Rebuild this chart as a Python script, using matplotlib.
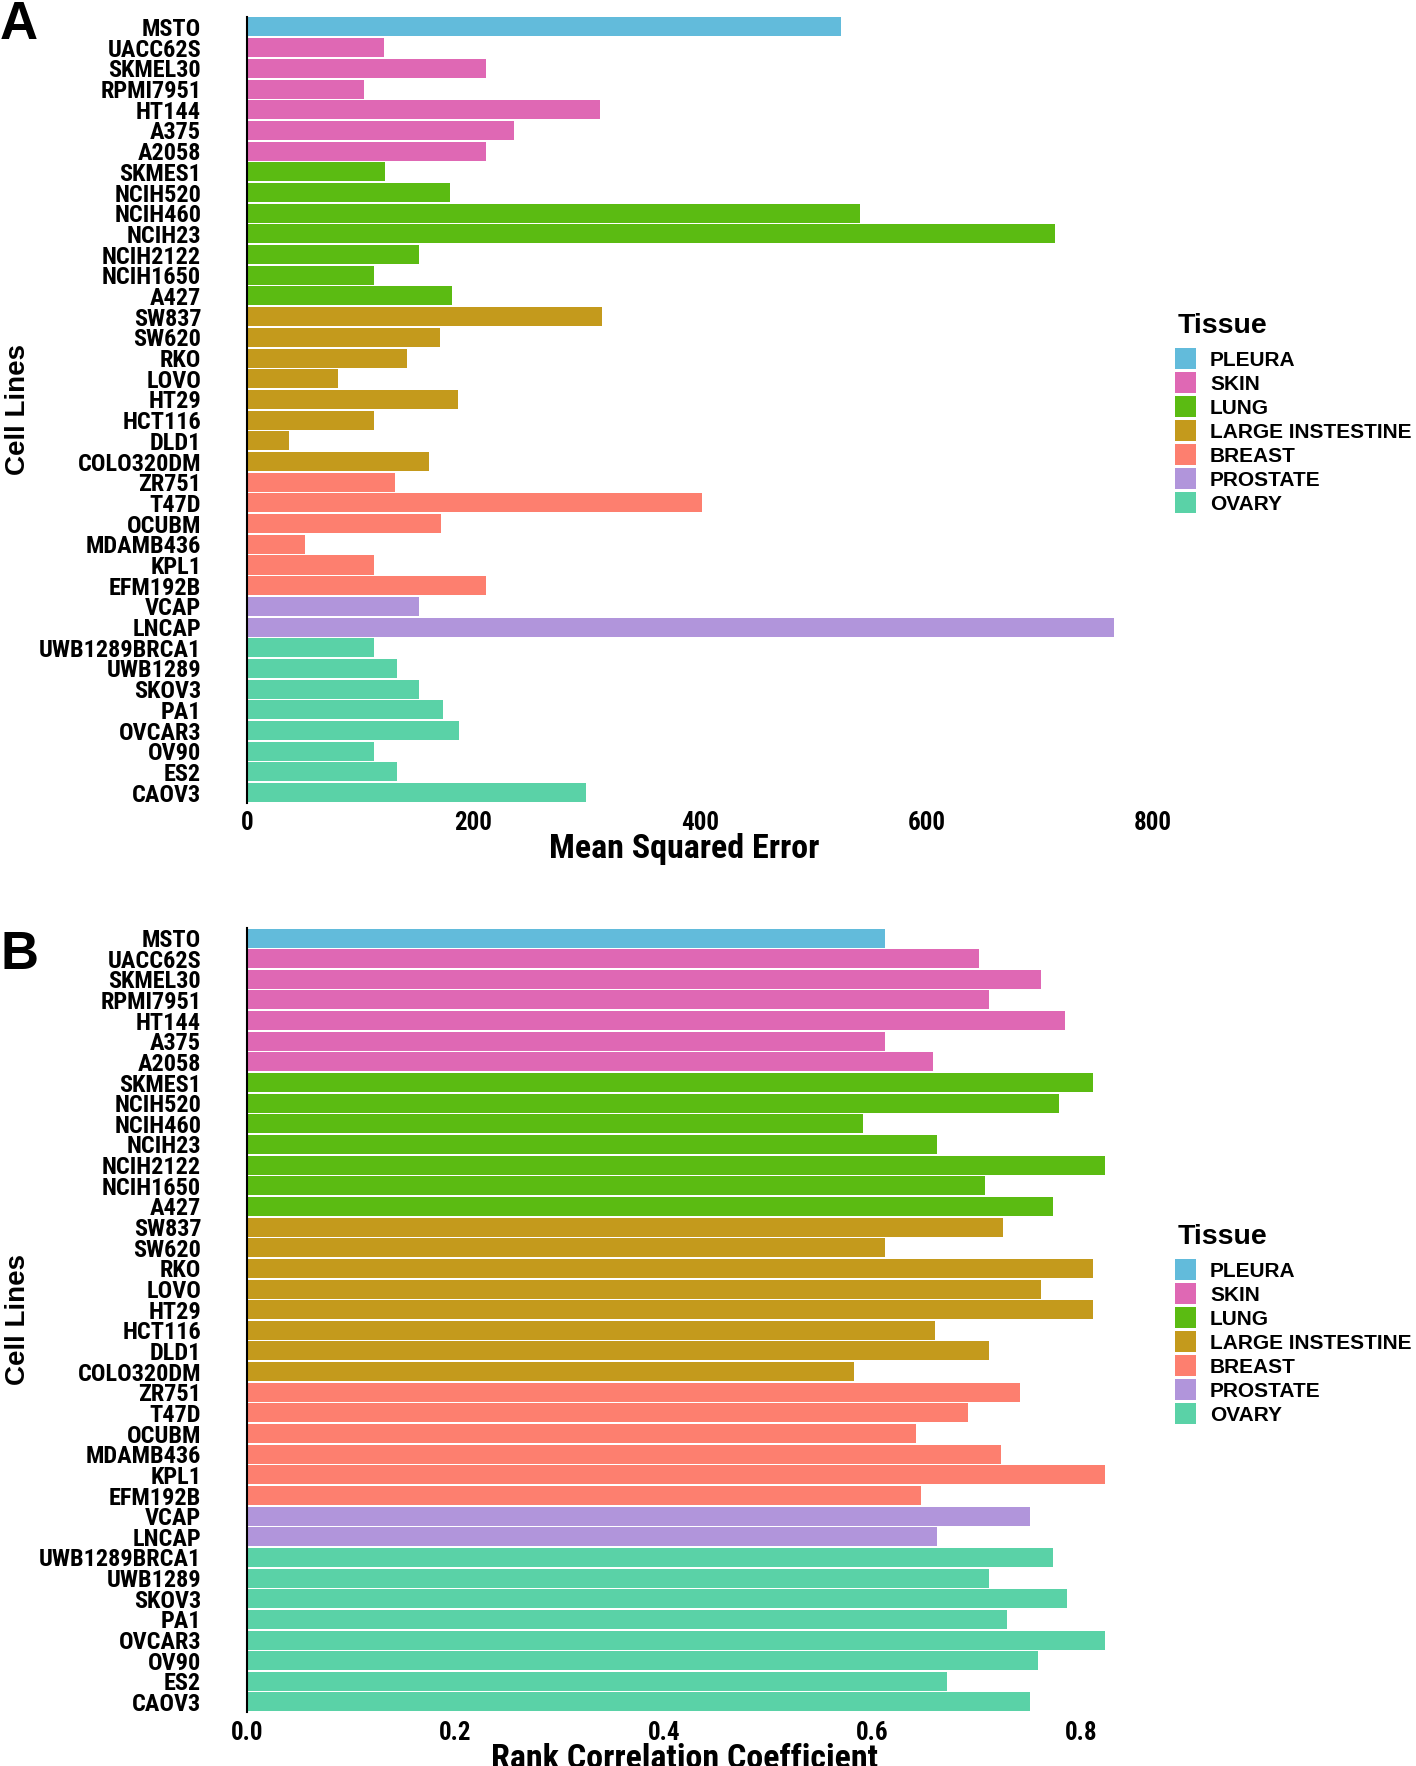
import matplotlib
matplotlib.use("Agg")
import matplotlib.pyplot as plt
from matplotlib.patches import Rectangle
from matplotlib import font_manager
from matplotlib.font_manager import FontProperties

# data
cell_lines = ["MSTO", "UACC62S", "SKMEL30", "RPMI7951", "HT144", "A375", "A2058",
              "SKMES1", "NCIH520", "NCIH460", "NCIH23", "NCIH2122", "NCIH1650", "A427",
              "SW837", "SW620", "RKO", "LOVO", "HT29", "HCT116", "DLD1", "COLO320DM",
              "ZR751", "T47D", "OCUBM", "MDAMB436", "KPL1", "EFM192B",
              "VCAP", "LNCAP",
              "UWB1289BRCA1", "UWB1289", "SKOV3", "PA1", "OVCAR3", "OV90", "ES2", "CAOV3"]
tissue = (["PLEURA"] + ["SKIN"] * 6 + ["LUNG"] * 7 + ["LARGE INSTESTINE"] * 8
          + ["BREAST"] * 6 + ["PROSTATE"] * 2 + ["OVARY"] * 8)
mse = [524, 121, 211, 103, 312, 236, 211,
       122, 179, 541, 713, 152, 112, 181,
       313, 170, 141, 80, 186, 112, 37, 161,
       131, 402, 171, 51, 112, 211,
       152, 765,
       112, 132, 152, 173, 187, 112, 132, 299]
rank_corr = [0.612, 0.702, 0.762, 0.712, 0.785, 0.612, 0.658,
             0.812, 0.779, 0.591, 0.662, 0.823, 0.708, 0.773,
             0.725, 0.612, 0.812, 0.762, 0.812, 0.660, 0.712, 0.582,
             0.742, 0.692, 0.642, 0.723, 0.823, 0.647,
             0.751, 0.662,
             0.773, 0.712, 0.787, 0.729, 0.823, 0.759, 0.672, 0.751]
tissues = ["PLEURA", "SKIN", "LUNG", "LARGE INSTESTINE", "BREAST", "PROSTATE", "OVARY"]
colors = ["#62BBDB", "#DF68B4", "#5BBB12", "#C49A1C", "#FD7F6F", "#B195DB", "#5AD2A7"]
cmap = dict(zip(tissues, colors))


def weight_num(w):
    if isinstance(w, (int, float)):
        return w
    return {"bold": 700, "semibold": 600, "demibold": 600, "heavy": 800,
            "black": 900, "extra bold": 800}.get(str(w).lower(), 400)


# look for a narrow bold font (the original labels are condensed)
narrow_fp = None
scale = 1.0
for key in ["Liberation Sans Narrow", "Roboto Condensed", "Open Sans Condensed",
            "Noto Sans Condensed", "DejaVu Sans Condensed"]:
    for f in font_manager.fontManager.ttflist:
        if (key in f.name or key.replace(" ", "") in f.fname.replace("-", "").replace(" ", "")) \
                and weight_num(f.weight) >= 600 and "Italic" not in f.fname and "Oblique" not in f.fname:
            narrow_fp = f.fname
            break
    if narrow_fp:
        if "DejaVu" in key:
            scale = 0.9
        break

if narrow_fp is None:
    def tick_font(size):
        return FontProperties(family="Liberation Sans", weight="bold", size=size * 0.9)
else:
    def tick_font(size):
        return FontProperties(fname=narrow_fp, size=size * scale)

wide = "Liberation Sans"
W, H = 1416, 1766

fig = plt.figure(figsize=(W / 100, H / 100), dpi=100)

panels = [
    (mse, [0, 200, 400, 600, 800], ["0", "200", "400", "600", "800"], 806,
     "Mean Squared Error", "A", [0.5453, 0.9906 - 0.5453]),
    (rank_corr, [0, 0.2, 0.4, 0.6, 0.8], ["0.0", "0.2", "0.4", "0.6", "0.8"], 0.876,
     "Rank Correlation Coefficient", "B", [0.0304, 0.4747 - 0.0304]),
]

left = 247 / W
width = (1160 - 247) / W
ypos = list(range(len(cell_lines)))

for vals, ticks, ticklabels, xmax, xlabel, letter, (bottom, height) in panels:
    ax = fig.add_axes([left, bottom, width, height])
    ax.barh(ypos, vals, height=0.92, color=[cmap[t] for t in tissue], linewidth=0)
    ax.set_ylim(len(cell_lines) - 0.5, -0.5)
    ax.set_xlim(0, xmax)
    ax.set_yticks(ypos)
    ax.set_yticklabels(cell_lines, fontproperties=tick_font(17.5))
    ax.set_xticks(ticks)
    ax.set_xticklabels(ticklabels, fontproperties=tick_font(18))
    ax.tick_params(length=0, pad=6)
    ax.tick_params(axis="y", pad=33)
    for s in ["top", "right", "bottom"]:
        ax.spines[s].set_visible(False)
    ax.spines["left"].set_linewidth(1.5)
    ax.set_xlabel(xlabel, fontproperties=tick_font(24.5))
    ax.xaxis.set_label_coords(0.479, -0.059)
    ax.xaxis.label.set_va("center")
    ax.set_ylabel("Cell Lines", fontfamily=wide, fontweight="bold", fontsize=20)
    ax.yaxis.set_label_coords(-0.237, 0.5)

    top_px = (1 - (bottom + height)) * H
    ly = 1.0 if letter == "A" else 1 - (top_px + 2) / H
    fig.text(0.0, ly, letter, fontfamily=wide, fontweight="bold",
             fontsize=38, va="top", ha="left")

    # legend
    fig.text(1178 / W, 1 - (top_px + 309) / H, "Tissue", fontfamily=wide,
             fontweight="bold", fontsize=20.5, va="center", ha="left")
    for i, (t, c) in enumerate(zip(tissues, colors)):
        cy = top_px + 342 + i * 24
        fig.add_artist(Rectangle((1175 / W, 1 - (cy + 10.5) / H), 21 / W, 21 / H,
                                 transform=fig.transFigure, facecolor=c, edgecolor="none"))
        fig.text(1210 / W, 1 - cy / H, t, fontfamily=wide, fontweight="bold",
                 fontsize=15, va="center_baseline", ha="left")

fig.savefig("out.png", dpi=100, facecolor="white")
